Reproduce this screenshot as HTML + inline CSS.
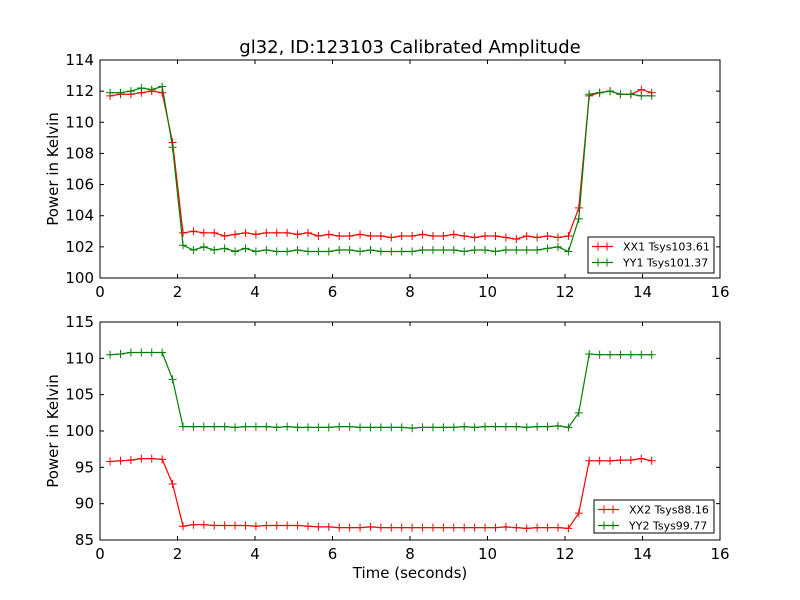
<!DOCTYPE html>
<html><head><meta charset="utf-8"><style>
body{margin:0;background:#fff;}
svg{display:block;font-family:"DejaVu Sans","Liberation Sans",sans-serif;}
</style></head><body>
<svg id="chart" width="800" height="600" viewBox="0 0 800 600"></svg>
<script>
const tStart = 0.26, tStep = 0.2688;
const xx1 = [111.7,111.8,111.8,111.9,112.0,111.9,108.7,
 102.9,103.0,102.9,102.9,102.7,102.8,102.9,102.8,102.9,102.9,
 102.9,102.8,102.9,102.7,102.8,102.7,102.7,102.8,102.7,102.7,
 102.6,102.7,102.7,102.8,102.7,102.7,102.8,102.7,102.6,102.7,
 102.7,102.6,102.5,102.7,102.6,102.7,102.6,102.7,
 104.5,111.7,111.9,112.0,111.8,111.8,112.1,111.9];
const yy1 = [111.9,111.9,112.0,112.2,112.1,112.3,108.4,
 102.1,101.8,102.0,101.8,101.9,101.7,101.9,101.7,101.8,101.7,
 101.7,101.8,101.7,101.7,101.7,101.8,101.8,101.7,101.8,101.7,
 101.7,101.7,101.7,101.8,101.8,101.8,101.8,101.7,101.8,101.8,
 101.7,101.8,101.8,101.8,101.8,101.9,102.0,101.7,
 103.8,111.8,111.9,112.0,111.8,111.8,111.7,111.7];
const xx2 = [95.8,95.9,96.0,96.2,96.2,96.1,92.7,
 86.9,87.1,87.1,87.0,87.0,87.0,87.0,86.9,87.0,87.0,
 87.0,87.0,86.9,86.8,86.8,86.7,86.7,86.7,86.8,86.7,
 86.7,86.7,86.7,86.7,86.7,86.7,86.7,86.7,86.7,86.7,
 86.7,86.8,86.7,86.6,86.7,86.7,86.7,86.6,
 88.7,95.9,95.9,95.9,96.0,96.0,96.2,95.9];
const yy2 = [110.5,110.6,110.8,110.8,110.8,110.8,107.1,
 100.6,100.6,100.6,100.6,100.6,100.5,100.6,100.6,100.6,100.5,
 100.6,100.5,100.5,100.5,100.5,100.6,100.6,100.5,100.5,100.5,
 100.5,100.5,100.4,100.5,100.5,100.5,100.5,100.6,100.5,100.6,
 100.6,100.6,100.6,100.5,100.6,100.6,100.7,100.5,
 102.5,110.6,110.5,110.5,110.5,110.5,110.5,110.5];
const xTicks = [0,2,4,6,8,10,12,14,16];
const yTicksTop = [100,102,104,106,108,110,112,114];
const yTicksBot = [85,90,95,100,105,110,115];
const legendTop = ["XX1 Tsys103.61","YY1 Tsys101.37"];
const legendBot = ["XX2 Tsys88.16","YY2 Tsys99.77"];

const NS = "http://www.w3.org/2000/svg";
const svg = document.getElementById("chart");
function mk(tag, attrs, parent){const e=document.createElementNS(NS,tag);for(const k in attrs)e.setAttribute(k,attrs[k]);(parent||svg).appendChild(e);return e;}

const L=100,R=720;
function xs(v){return L+(v-0)/(16-0)*(R-L);}
function makeY(top,bot,min,max){return v=>bot-(v-min)/(max-min)*(bot-top);}

function panel(name, top, bot, min, max, yTicks, series, labels, legendBox, showXTitle){
  const g=mk("g",{});
  
  
  const ys=makeY(top,bot,min,max);
  const frame=mk("rect",{x:L,y:top,width:R-L,height:bot-top,fill:"#fff",stroke:"#000","stroke-width":1},g);
  
  
  xTicks.forEach(t=>{
    const x=xs(t);
    mk("line",{x1:x,y1:bot,x2:x,y2:bot-4,stroke:"#000"},g);
    mk("line",{x1:x,y1:top,x2:x,y2:top+4,stroke:"#000"},g);
    const tx=mk("text",{x:x,y:bot+19,"font-size":15,"text-anchor":"middle"},g);
    tx.textContent=t;
    
    
  });
  yTicks.forEach(t=>{
    const y=ys(t);
    mk("line",{x1:L,y1:y,x2:L+4,y2:y,stroke:"#000"},g);
    mk("line",{x1:R,y1:y,x2:R-4,y2:y,stroke:"#000"},g);
    const tx=mk("text",{x:L-6,y:y+5,"font-size":15,"text-anchor":"end"},g);
    tx.textContent=t;
    
    
  });
  const yt=mk("text",{x:0,y:0,"font-size":15,"text-anchor":"middle",transform:`translate(58,${(top+bot)/2}) rotate(-90)`},g);
  yt.textContent="Power in Kelvin";
  
  
  const colors=["#ff0000","#008000"];
  series.forEach((s,si)=>{
    const pts=s.map((v,i)=>xs(tStart+i*tStep).toFixed(1)+","+ys(v).toFixed(1)).join(" ");
    const pl=mk("polyline",{points:pts,fill:"none",stroke:colors[si],"stroke-width":1.2},g);
    
    
    s.forEach((v,i)=>{
      const x=xs(tStart+i*tStep), y=ys(v);
      const m=mk("path",{d:`M${x-4},${y}H${x+4}M${x},${y-4}V${y+4}`,stroke:colors[si],"stroke-width":1},g);
      
      
    });
  });
  const [bx,by,bw,bh]=legendBox;
  const lg=mk("g",{},g);
  
  
  mk("rect",{x:bx,y:by,width:bw,height:bh,fill:"#fff",stroke:"#000","stroke-width":1},lg);
  labels.forEach((lab,i)=>{
    const ly=by+9.5+i*16;
    mk("line",{x1:bx+4,y1:ly,x2:bx+25,y2:ly,stroke:colors[i],"stroke-width":1.2},lg);
    mk("path",{d:`M${bx+10},${ly-4}V${ly+4}M${bx+19},${ly-4}V${ly+4}`,stroke:colors[i]},lg);
    const t=mk("text",{x:bx+35,y:ly+4,"font-size":11},lg);
    t.textContent=lab;
    
    
  });
  if(showXTitle){
    const xt=mk("text",{x:(L+R)/2,y:bot+38,"font-size":15,"text-anchor":"middle"},g);
    xt.textContent="Time (seconds)";
    
    
  }
}

const title=mk("text",{x:410,y:53,"font-size":18,"text-anchor":"middle"});
title.textContent="gl32, ID:123103 Calibrated Amplitude";



panel("top-panel",60,278,100,114,yTicksTop,[xx1,yy1],legendTop,[588,237,126,36],false);
panel("bottom-panel",322,540,85,115,yTicksBot,[xx2,yy2],legendBot,[594,500,120,33],true);
</script>
</body></html>
